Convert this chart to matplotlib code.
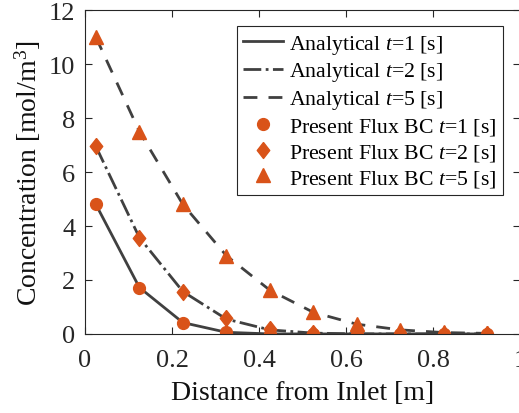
import numpy as np
import matplotlib
matplotlib.use('Agg')
import matplotlib.pyplot as plt

plt.rcParams['font.family'] = ['Liberation Serif', 'DejaVu Serif']
plt.rcParams['mathtext.fontset'] = 'custom'
plt.rcParams['mathtext.it'] = 'Liberation Serif:italic'
plt.rcParams['mathtext.rm'] = 'Liberation Serif'

# cell centres along the channel
x = [0.025, 0.125, 0.225, 0.325, 0.425, 0.525, 0.625, 0.725, 0.825, 0.925]

# analytical solution
ana_t1 = [4.8, 1.72, 0.42, 0.06, 0.0, 0.0, 0.0, 0.0, 0.0, 0.0]
ana_t2 = [6.95, 3.57, 1.57, 0.55, 0.15, 0.03, 0.0, 0.0, 0.0, 0.0]
ana_t5 = [11.0, 7.5, 4.8, 2.9, 1.62, 0.8, 0.36, 0.15, 0.05, 0.02]

# present flux BC
flux_t1 = [4.8, 1.72, 0.42, 0.06, 0.0, 0.0, 0.0, 0.0, 0.0, 0.0]
flux_t2 = [6.95, 3.57, 1.57, 0.58, 0.17, 0.02, 0.0, 0.0, 0.0, 0.0]
flux_t5 = [11.0, 7.5, 4.8, 2.9, 1.62, 0.8, 0.38, 0.16, 0.06, 0.02]

line_c = '#404040'
mark_c = '#D95319'
diamond = [(0, 1), (0.78, 0), (0, -1), (-0.78, 0), (0, 1)]

fig = plt.figure(figsize=(5.19, 4.14), dpi=100)
ax = fig.add_axes([0.1638, 0.191, 0.8382, 0.782])

ax.plot(x, ana_t1, '-', color=line_c, lw=2, label=r'Analytical $t$=1 [s]')
ax.plot(x, ana_t2, '-.', color=line_c, lw=2, label=r'Analytical $t$=2 [s]')
ax.plot(x, ana_t5, '--', color=line_c, lw=2, dashes=(5, 4), label=r'Analytical $t$=5 [s]')
ax.plot(x, flux_t1, 'o', color=mark_c, ms=8.5, ls='none', label=r'Present Flux BC $t$=1 [s]')
ax.plot(x, flux_t2, marker=diamond, color=mark_c, ms=11.5, ls='none', label=r'Present Flux BC $t$=2 [s]')
ax.plot(x, flux_t5, '^', color=mark_c, ms=10.5, ls='none', label=r'Present Flux BC $t$=5 [s]')

ax.set_xlim(0, 1)
ax.set_ylim(0, 12)
ax.set_xticks([0, 0.2, 0.4, 0.6, 0.8, 1])
ax.set_xticklabels(['0', '0.2', '0.4', '0.6', '0.8', '1'])
ax.set_yticks([0, 2, 4, 6, 8, 10, 12])
ax.tick_params(direction='in', top=True, right=True, labelsize=19, colors='#262626',
               length=5, width=0.8)
ax.tick_params(axis='x', pad=11)
ax.tick_params(axis='y', pad=7)
for s in ax.spines.values():
    s.set_color('#262626')
    s.set_linewidth(0.8)
ax.set_xlabel('Distance from Inlet [m]', fontsize=20, color='#111111', labelpad=6)
ax.set_ylabel(r'Concentration [mol/m$^3$]', fontsize=20, color='#111111', labelpad=4)

leg = ax.legend(loc='upper right', bbox_to_anchor=(0.961, 0.951), fontsize=15.7,
                frameon=True, fancybox=False, edgecolor='#262626', framealpha=1,
                handlelength=1.8, handletextpad=0.3, labelspacing=0.22,
                borderpad=0.3, borderaxespad=0)
leg.get_frame().set_linewidth(0.8)

fig.savefig('out.png', dpi=100)
